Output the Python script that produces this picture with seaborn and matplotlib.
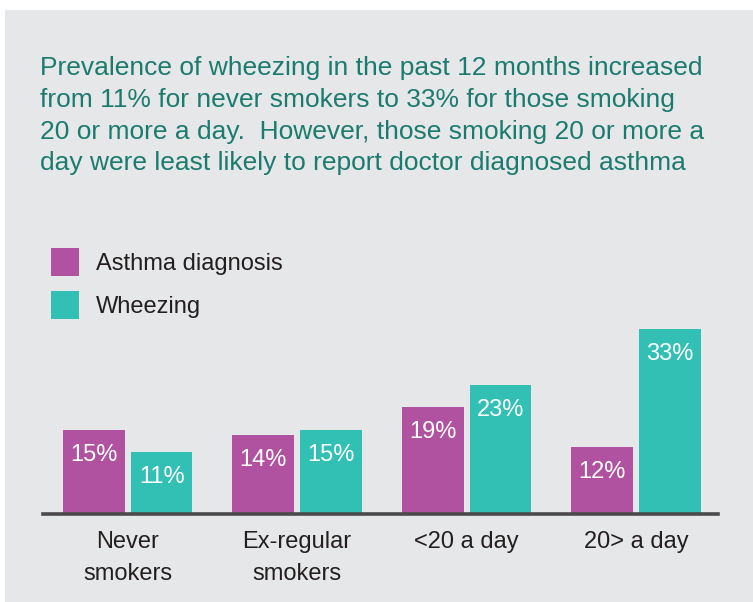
import matplotlib
matplotlib.use("Agg")
import matplotlib.pyplot as plt
from matplotlib.patches import Patch, Rectangle
import seaborn as sns
import pandas as pd

categories = ["Never\nsmokers", "Ex-regular\nsmokers", "<20 a day", "20> a day"]
asthma = [15, 14, 19, 12]
wheezing = [11, 15, 23, 33]
series_names = ["Asthma diagnosis", "Wheezing"]
title = ("Prevalence of wheezing in the past 12 months increased\n"
         "from 11% for never smokers to 33% for those smoking\n"
         "20 or more a day.  However, those smoking 20 or more a\n"
         "day were least likely to report doctor diagnosed asthma")

PURPLE = "#b0529f"
TEAL = "#32bfb4"
TITLE_C = "#1b7b6e"
TEXT_C = "#231f20"
BG = "#e6e7e8"

sns.set_theme(style="white")
plt.rcParams["font.family"] = ["Liberation Sans", "DejaVu Sans"]

df = pd.DataFrame({
    "category": categories * 2,
    "measure": [series_names[0]] * 4 + [series_names[1]] * 4,
    "value": asthma + wheezing,
})

W, H = 753, 602
fig = plt.figure(figsize=(W / 100, H / 100), dpi=100)
fig.patch.set_facecolor("white")
bg = Rectangle((5 / W, 0), 1, (H - 10) / H, transform=fig.transFigure,
               facecolor=BG, edgecolor="none", zorder=-10)
fig.patches.append(bg)

base_y = 514
top_y = 300
ax = fig.add_axes([43 / W, (H - base_y) / H, (718 - 43) / W, (base_y - top_y) / H])
ax.set_facecolor("none")
ax.set_zorder(1)

sns.barplot(data=df, x="category", y="value", hue="measure", order=categories,
            hue_order=series_names, palette=[PURPLE, TEAL], width=0.8, gap=0.09,
            saturation=1, legend=False, ax=ax, edgecolor="none", linewidth=0)

ax.set_xlim(-0.5, 3.484)
ax.set_ylim(0, (base_y - top_y) / 5.62)
ax.set_xlabel("")
ax.set_ylabel("")
ax.set_yticks([])
for s in ["left", "right", "top"]:
    ax.spines[s].set_visible(False)
ax.spines["bottom"].set_color("#4a4a4a")
ax.spines["bottom"].set_linewidth(2.6)
ax.tick_params(axis="x", length=0, pad=12.5, labelsize=17, labelcolor=TEXT_C)
for t in ax.get_xticklabels():
    t.set_linespacing(1.54)

for cont, vals in zip(ax.containers, [asthma, wheezing]):
    texts = ax.bar_label(cont, labels=[f"{v}%" for v in vals], padding=-18,
                         color="white", fontsize=17)
    for t in texts:
        t.set_va("center")

fig.text(40 / W, 1 - 56 / H, title, ha="left", va="top", color=TITLE_C,
         fontsize=19, linespacing=1.41)

handles = [Patch(facecolor=PURPLE, edgecolor="none"), Patch(facecolor=TEAL, edgecolor="none")]
fig.legend(handles, series_names, loc="upper left", bbox_to_anchor=(51 / W, 1 - 248 / H),
           frameon=False, fontsize=17, handlelength=1.2, handleheight=1.45,
           handletextpad=0.7, labelspacing=0.63, borderpad=0, borderaxespad=0,
           labelcolor=TEXT_C)

fig.savefig("out.png", dpi=100)
